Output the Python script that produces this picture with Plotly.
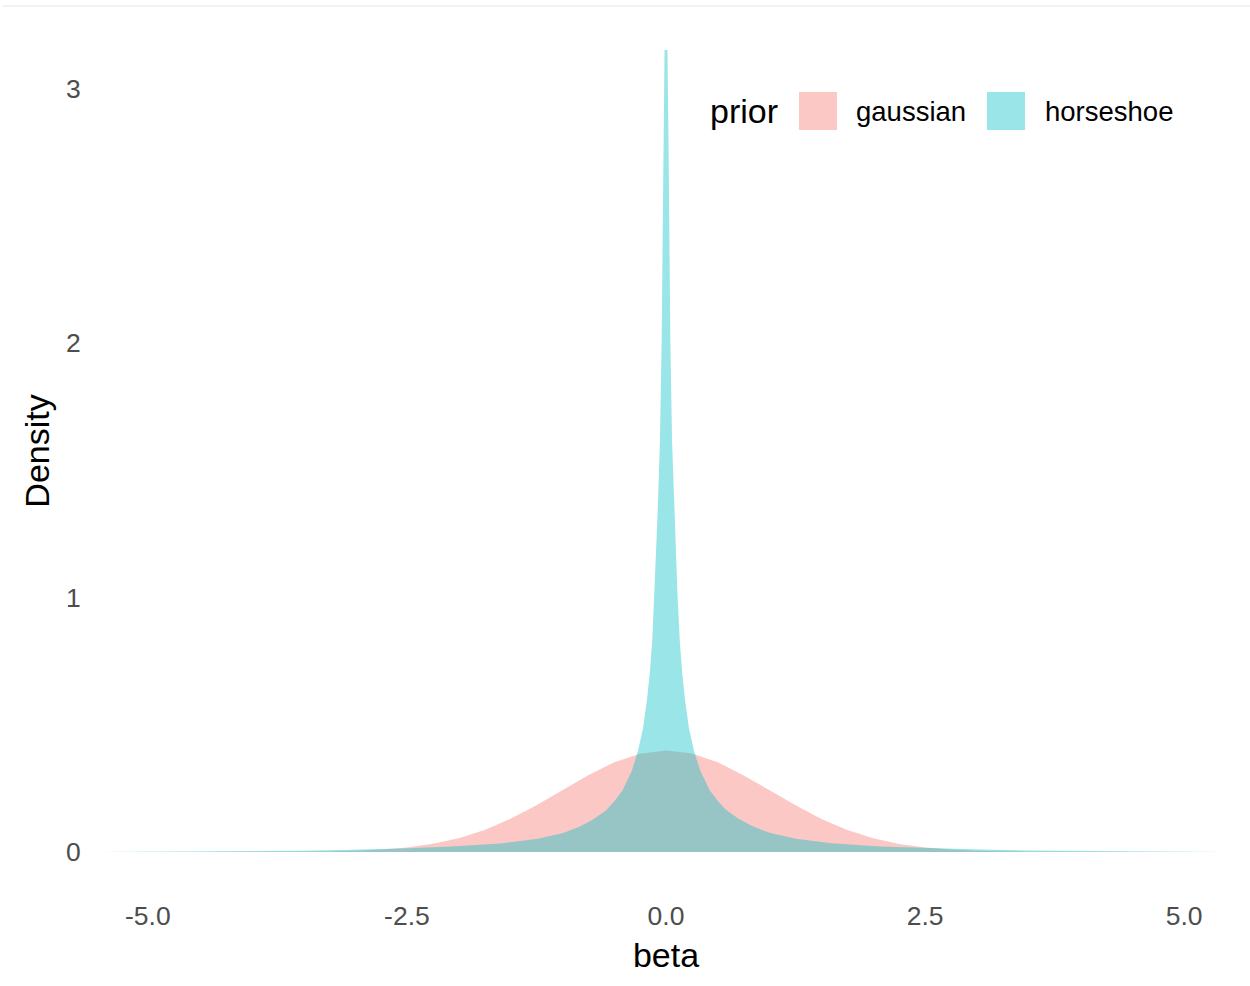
import plotly.graph_objects as go

# ---- data ----
gauss_x = [-4.5, -4.25, -4.0, -3.75, -3.5, -3.25, -3.0, -2.75, -2.5, -2.25, -2.0, -1.75, -1.5,
           -1.25, -1.0, -0.75, -0.5, -0.25, 0.0, 0.25, 0.5, 0.75, 1.0, 1.25, 1.5, 1.75,
           2.0, 2.25, 2.5, 2.75, 3.0, 3.25, 3.5, 3.75, 4.0, 4.25, 4.5]
gauss_y = [0.0, 0.0001, 0.0002, 0.0004, 0.0009, 0.002, 0.0045, 0.009, 0.0175, 0.032, 0.054, 0.086, 0.13,
           0.183, 0.242, 0.301, 0.352, 0.386, 0.398, 0.387, 0.352, 0.300, 0.242, 0.183, 0.129, 0.086,
           0.054, 0.031, 0.0175, 0.009, 0.0044, 0.002, 0.0009, 0.0004, 0.0002, 0.0001, 0.0]

hs_x = [-5.5, -5.0, -4.5, -4.0, -3.5, -3.03, -2.55, -2.07, -1.6, -1.25, -1.0, -0.84, -0.7, -0.58, -0.5,
        -0.42, -0.33, -0.268, -0.22, -0.183, -0.155, -0.133, -0.11, -0.092, -0.075, -0.058, -0.042,
        -0.032, -0.024, -0.014, 0.0, 0.014, 0.024, 0.032, 0.042, 0.058, 0.075, 0.092, 0.11, 0.133,
        0.155, 0.183, 0.22, 0.268, 0.33, 0.42, 0.5, 0.58, 0.7, 0.84, 1.0, 1.25, 1.6, 2.07, 2.55,
        3.03, 3.5, 4.0, 4.5, 5.0, 5.4]
hs_y = [0.0, 0.001, 0.002, 0.003, 0.005, 0.008, 0.013, 0.021, 0.033, 0.051, 0.073, 0.098, 0.128, 0.163, 0.198,
        0.241, 0.318, 0.40, 0.49, 0.60, 0.71, 0.83, 1.02, 1.22, 1.40, 1.62, 2.01,
        2.40, 2.80, 3.15, 3.15, 3.15, 2.80, 2.40, 2.01, 1.62, 1.40, 1.22, 1.02, 0.83,
        0.71, 0.60, 0.49, 0.40, 0.32, 0.243, 0.20, 0.165, 0.13, 0.10, 0.075, 0.052, 0.034, 0.021, 0.014,
        0.009, 0.006, 0.004, 0.003, 0.002, 0.0]

x_ticks = [-5.0, -2.5, 0.0, 2.5, 5.0]
x_tick_labels = ["-5.0", "-2.5", "0.0", "2.5", "5.0"]
y_ticks = [0, 1, 2, 3]
y_tick_labels = ["0", "1", "2", "3"]

series_names = ["gaussian", "horseshoe"]
series_colors = ["rgba(248,118,109,0.4)", "rgba(0,191,196,0.4)"]

FONT = "Liberation Sans, Arial, Helvetica, sans-serif"

fig = go.Figure()
fig.add_trace(go.Scatter(x=gauss_x, y=gauss_y, mode="lines", fill="tozeroy",
                         fillcolor=series_colors[0], line=dict(width=0, color=series_colors[0]),
                         name=series_names[0], showlegend=False, hoverinfo="x+y+name"))
fig.add_trace(go.Scatter(x=hs_x, y=hs_y, mode="lines", fill="tozeroy",
                         fillcolor=series_colors[1], line=dict(width=0, color=series_colors[1]),
                         name=series_names[1], showlegend=False, hoverinfo="x+y+name"))

L, R, T, B = 96, 14, 10, 94
W, H = 1250, 986
PW, PH = W - L - R, H - T - B

def px(x):
    return (x - L) / PW

def py(y):
    return (H - B - y) / PH

shapes = [
    dict(type="line", xref="paper", yref="paper", x0=px(3), x1=px(1250), y0=py(6), y1=py(6),
         line=dict(color="#e6e6e6", width=1)),
    dict(type="rect", xref="paper", yref="paper", x0=px(799), x1=px(837), y0=py(130), y1=py(92),
         fillcolor=series_colors[0], line=dict(width=0)),
    dict(type="rect", xref="paper", yref="paper", x0=px(987), x1=px(1025), y0=py(130), y1=py(92),
         fillcolor=series_colors[1], line=dict(width=0)),
]
annotations = [
    dict(text="prior", xref="paper", yref="paper", x=px(708), y=py(111), xanchor="left",
         yanchor="middle", showarrow=False, font=dict(family=FONT, size=34, color="black")),
    dict(text=series_names[0], xref="paper", yref="paper", x=px(854), y=py(111), xanchor="left",
         yanchor="middle", showarrow=False, font=dict(family=FONT, size=27.5, color="black")),
    dict(text=series_names[1], xref="paper", yref="paper", x=px(1043), y=py(111), xanchor="left",
         yanchor="middle", showarrow=False, font=dict(family=FONT, size=27.5, color="black")),
]

fig.update_layout(
    width=W, height=H,
    margin=dict(l=L, r=R, t=T, b=B, pad=0),
    paper_bgcolor="white", plot_bgcolor="white",
    font=dict(family=FONT),
    shapes=shapes, annotations=annotations,
    showlegend=False,
)
fig.update_xaxes(range=[-5.5, 5.5], tickvals=x_ticks, ticktext=x_tick_labels,
                 showgrid=False, zeroline=False, showline=False,
                 ticks="outside", ticklen=0, tickcolor="rgba(0,0,0,0)",
                 tickfont=dict(family=FONT, size=26.5, color="#4d4d4d"),
                 title=dict(text="beta", font=dict(family=FONT, size=34, color="black"), standoff=13))
fig.update_yaxes(range=[-0.1575, 3.3075], tickvals=y_ticks, ticktext=y_tick_labels,
                 showgrid=False, zeroline=False, showline=False,
                 ticks="outside", ticklen=9, tickcolor="rgba(0,0,0,0)",
                 tickfont=dict(family=FONT, size=26.5, color="#4d4d4d"),
                 title=dict(text="Density", font=dict(family=FONT, size=34, color="black"), standoff=6))

fig.write_html("out.html", config={"displayModeBar": False},
               post_script="document.body.style.margin='0';document.body.style.overflow='hidden';")
